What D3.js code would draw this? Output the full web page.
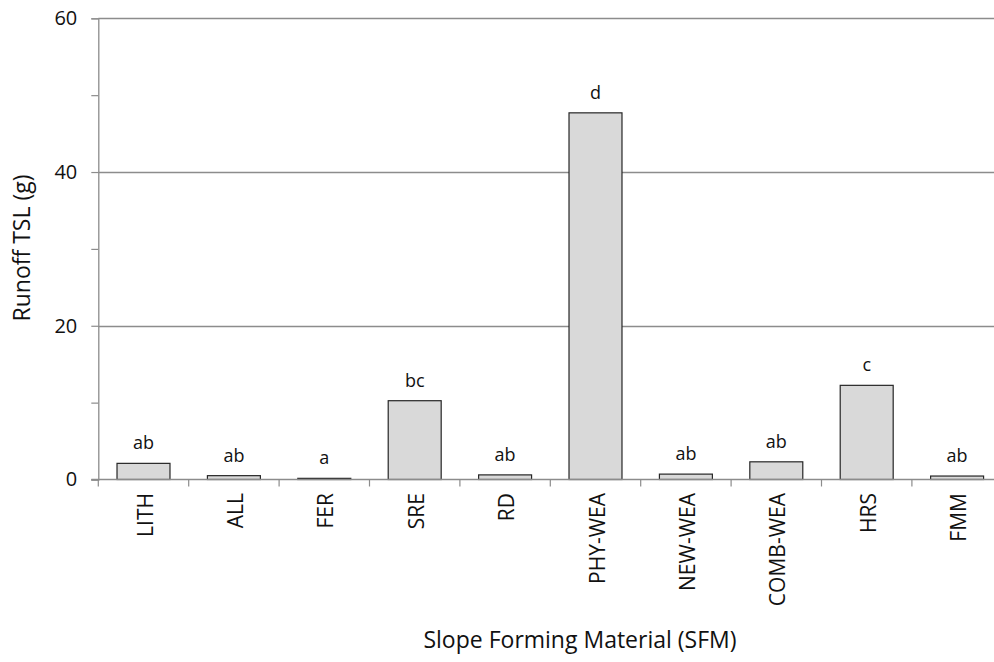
<!DOCTYPE html>
<html>
<head>
<meta charset="utf-8">
<script src="https://cdn.jsdelivr.net/npm/d3@7"></script>
<style>
  html, body { margin: 0; padding: 0; background: #fff; }
  svg { display: block; font-family: "Open Sans", "DejaVu Sans", sans-serif; }
</style>
</head>
<body>
<svg id="chart" width="994" height="662"></svg>
<script>
// Runoff total soil loss by slope forming material
const categories = ["LITH", "ALL", "FER", "SRE", "RD", "PHY-WEA", "NEW-WEA", "COMB-WEA", "HRS", "FMM"];
const runoffTSL  = [2.1, 0.5, 0.15, 10.25, 0.6, 47.7, 0.7, 2.3, 12.25, 0.45];
const groupLetters = ["ab", "ab", "a", "bc", "ab", "d", "ab", "ab", "c", "ab"];
const yMajorTicks = [0, 20, 40, 60];
const yMinorTicks = [10, 30, 50];

const svg = d3.select("#chart");
const plot = { left: 98.3, top: 18.3, right: 1002.3, bottom: 479.5 };
const textColor = "#111";
const axisColor = "#8c8c8c";

const x = d3.scaleBand()
  .domain(categories)
  .range([plot.left, plot.right])
  .paddingInner(0.414)
  .paddingOuter(0.207);

const y = d3.scaleLinear()
  .domain([0, 60])
  .range([plot.bottom, plot.top]);

// horizontal gridlines
svg.append("g")
  .selectAll("line")
  .data(yMajorTicks.filter(d => d > 0))
  .join("line")
  .attr("x1", plot.left).attr("x2", 994)
  .attr("y1", d => Math.round(y(d)) + 0.5).attr("y2", d => Math.round(y(d)) + 0.5)
  .attr("stroke", axisColor).attr("stroke-width", 1.3);

// y axis
const yAxis = svg.append("g")
  .attr("transform", `translate(${plot.left},0)`)
  .call(d3.axisLeft(y).tickValues(yMajorTicks.concat(yMinorTicks)).tickSize(7)
    .tickFormat(d => yMajorTicks.includes(d) ? d : ""));
yAxis.select(".domain").attr("stroke", axisColor).attr("stroke-width", 1.3);
yAxis.selectAll(".tick line").attr("stroke", axisColor).attr("stroke-width", 1.2);
yAxis.selectAll(".tick text")
  .attr("x", -21)
  .attr("font-size", 20)
  .attr("font-family", "Open Sans")
  .attr("fill", textColor);

// bars
svg.append("g")
  .selectAll("rect")
  .data(categories)
  .join("rect")
  .attr("x", d => x(d))
  .attr("y", (d, i) => y(runoffTSL[i]))
  .attr("width", x.bandwidth())
  .attr("height", (d, i) => y(0) - y(runoffTSL[i]))
  .attr("fill", "#d9d9d9")
  .attr("stroke", "#262626")
  .attr("stroke-width", 1.2);

// x axis baseline and category separator ticks
const step = x.step();
const xAxisG = svg.append("g");
xAxisG.append("line")
  .attr("x1", plot.left - 7).attr("x2", 994)
  .attr("y1", plot.bottom).attr("y2", plot.bottom)
  .attr("stroke", axisColor).attr("stroke-width", 1.3);
xAxisG.selectAll("line.sep")
  .data(d3.range(categories.length + 1))
  .join("line")
  .attr("class", "sep")
  .attr("x1", i => plot.left + i * step).attr("x2", i => plot.left + i * step)
  .attr("y1", plot.bottom).attr("y2", plot.bottom + 7)
  .attr("stroke", axisColor).attr("stroke-width", 1.2);

// rotated category labels
xAxisG.selectAll("text")
  .data(categories)
  .join("text")
  .attr("transform", d => `translate(${x(d) + x.bandwidth() / 2 + 1},493) rotate(-90)`)
  .attr("text-anchor", "end")
  .attr("dominant-baseline", "central")
  .attr("font-size", 21)
  .attr("fill", textColor)
  .text(d => d);

// significance letters above bars
svg.append("g")
  .selectAll("text")
  .data(categories)
  .join("text")
  .attr("x", d => x(d) + x.bandwidth() / 2)
  .attr("y", (d, i) => y(runoffTSL[i]) - 14)
  .attr("text-anchor", "middle")
  .attr("font-size", 18)
  .attr("fill", textColor)
  .text((d, i) => groupLetters[i]);

// axis titles
svg.append("text")
  .attr("transform", "translate(21,248) rotate(-90)")
  .attr("text-anchor", "middle")
  .attr("dominant-baseline", "central")
  .attr("font-size", 23)
  .attr("fill", textColor)
  .text("Runoff TSL (g)");

svg.append("text")
  .attr("x", 580)
  .attr("y", 648)
  .attr("text-anchor", "middle")
  .attr("font-size", 23)
  .attr("fill", textColor)
  .text("Slope Forming Material (SFM)");
</script>
</body>
</html>
